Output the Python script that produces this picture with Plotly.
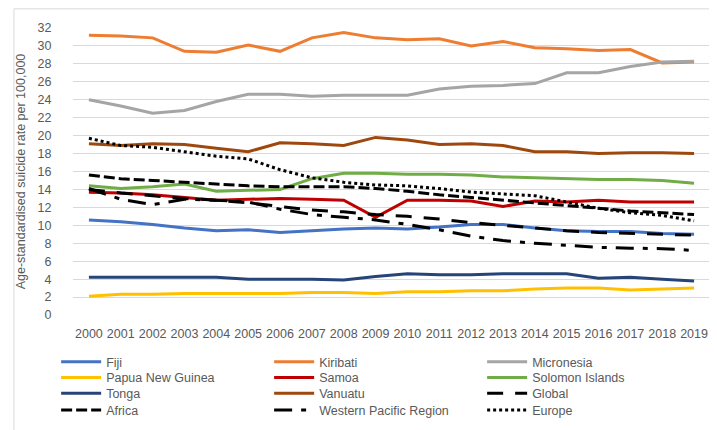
import plotly.graph_objects as go

years = list(range(2000, 2020))

fiji = [10.6, 10.4, 10.1, 9.7, 9.4, 9.5, 9.2, 9.4, 9.6, 9.7, 9.6, 9.8, 10.1, 10.1, 9.7, 9.4, 9.3, 9.3, 9.1, 9.0]
kiribati = [31.2, 31.1, 30.9, 29.4, 29.3, 30.1, 29.4, 30.9, 31.5, 30.9, 30.7, 30.8, 30.0, 30.5, 29.8, 29.7, 29.5, 29.6, 28.1, 28.2]
micronesia = [24.0, 23.3, 22.5, 22.8, 23.8, 24.6, 24.6, 24.4, 24.5, 24.5, 24.5, 25.2, 25.5, 25.6, 25.8, 27.0, 27.0, 27.7, 28.2, 28.3]
png = [2.1, 2.3, 2.3, 2.4, 2.4, 2.4, 2.4, 2.5, 2.5, 2.4, 2.6, 2.6, 2.7, 2.7, 2.9, 3.0, 3.0, 2.8, 2.9, 3.0]
samoa = [13.7, 13.6, 13.4, 13.1, 12.8, 12.9, 13.0, 12.9, 12.8, 10.9, 12.8, 12.8, 12.7, 12.1, 12.7, 12.6, 12.8, 12.6, 12.6, 12.6]
solomon = [14.4, 14.1, 14.3, 14.6, 13.8, 13.9, 14.0, 15.2, 15.8, 15.8, 15.7, 15.7, 15.6, 15.4, 15.3, 15.2, 15.1, 15.1, 15.0, 14.7]
tonga = [4.2, 4.2, 4.2, 4.2, 4.2, 4.0, 4.0, 4.0, 3.9, 4.3, 4.6, 4.5, 4.5, 4.6, 4.6, 4.6, 4.1, 4.2, 4.0, 3.8]
vanuatu = [19.1, 18.9, 19.1, 19.0, 18.6, 18.2, 19.2, 19.1, 18.9, 19.8, 19.5, 19.0, 19.1, 18.9, 18.2, 18.2, 18.0, 18.1, 18.1, 18.0]
global_ = [14.0, 13.6, 13.3, 13.0, 12.8, 12.5, 12.1, 11.7, 11.5, 11.2, 11.0, 10.7, 10.3, 10.0, 9.7, 9.4, 9.2, 9.1, 9.0, 8.9]
africa = [15.6, 15.2, 15.0, 14.8, 14.6, 14.4, 14.3, 14.3, 14.3, 14.1, 13.8, 13.4, 13.1, 12.8, 12.5, 12.2, 11.9, 11.6, 11.4, 11.2]
wpr = [14.1, 12.9, 12.3, 12.9, 12.8, 12.6, 11.8, 11.2, 10.9, 10.6, 10.1, 9.5, 8.8, 8.3, 8.0, 7.8, 7.55, 7.45, 7.4, 7.2]
europe = [19.7, 18.9, 18.7, 18.2, 17.7, 17.4, 16.2, 15.3, 14.8, 14.5, 14.4, 14.1, 13.7, 13.5, 13.3, 12.6, 11.9, 11.4, 11.1, 10.5]

y_ticks = list(range(0, 34, 2))

series = [
    ("Fiji", fiji, "#4472C4", "solid"),
    ("Kiribati", kiribati, "#ED7D31", "solid"),
    ("Micronesia", micronesia, "#A5A5A5", "solid"),
    ("Papua New Guinea", png, "#FFC000", "solid"),
    ("Samoa", samoa, "#C00000", "solid"),
    ("Solomon Islands", solomon, "#70AD47", "solid"),
    ("Tonga", tonga, "#264478", "solid"),
    ("Vanuatu", vanuatu, "#9E480E", "solid"),
    ("Global", global_, "#000000", "16px,12px"),
    ("Africa", africa, "#000000", "11px,4px"),
    ("Western Pacific Region", wpr, "#000000", "18px,9px,5px,9px"),
    ("Europe", europe, "#000000", "3px,3px"),
]

W, H = 717, 430
L, R, T, B = 60, 15, 20, 118
pw, ph = W - L - R, H - T - B

legend_names = ["legend", "legend2", "legend3", "legend4"]
row_centers = [360, 376, 392, 409]

fig = go.Figure()
for i, (name, vals, color, dash) in enumerate(series):
    fig.add_trace(go.Scatter(
        x=years, y=vals, name=name, mode="lines",
        line=dict(color=color, width=3, dash=dash),
        legend=legend_names[i // 3],
    ))

def legend_row(py):
    return dict(
        orientation="h", x=(43 - L) / pw, xanchor="left",
        y=(T + ph - py) / ph, yanchor="middle",
        itemwidth=40,
        entrywidth=158, entrywidthmode="pixels",
        font=dict(size=12.5, color="#595959"),
        bgcolor="rgba(0,0,0,0)", borderwidth=0,
    )

layout_legends = {name: legend_row(py) for name, py in zip(legend_names, row_centers)}

fig.update_layout(
    width=W, height=H,
    margin=dict(l=L, r=R, t=T, b=B),
    paper_bgcolor="white", plot_bgcolor="white",
    font=dict(family="Liberation Sans, Arial, sans-serif", size=12.5, color="#595959"),
    showlegend=True,
    xaxis=dict(
        range=[1999.5, 2019.5], tickmode="array", tickvals=years,
        ticktext=[str(y) for y in years], tickangle=0,
        showgrid=False, zeroline=False, showline=False,
        ticks="outside", ticklen=7, tickcolor="rgba(0,0,0,0)",
        tickfont=dict(size=12.5, color="#595959"),
    ),
    yaxis=dict(
        range=[0, 32], tickmode="array", tickvals=y_ticks,
        showgrid=True, gridcolor="#D9D9D9", gridwidth=1,
        zeroline=False, showline=False,
        ticks="outside", ticklen=18, tickcolor="rgba(0,0,0,0)",
        tickfont=dict(size=12.5, color="#595959"),
        title=dict(text="Age-standardised suicide rate per 100,000",
                   font=dict(size=12.5, color="#595959"), standoff=9),
    ),
    shapes=[dict(
        type="rect", xref="paper", yref="paper",
        x0=(0.5 - L) / pw, x1=(W - 0.5 - L) / pw,
        y0=-(H - 0.5 - T - ph) / ph, y1=1 + (T - 0.5) / ph,
        line=dict(color="#D9D9D9", width=1), fillcolor="rgba(0,0,0,0)",
        layer="below",
    )],
    **layout_legends,
)

fig.write_html("out.html")
